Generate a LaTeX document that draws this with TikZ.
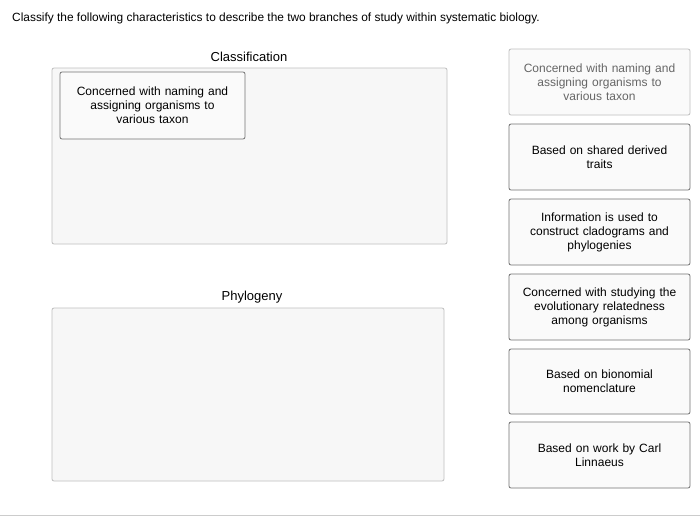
\documentclass[tikz,border=0pt]{standalone}
\usepackage{fontspec}
\setmainfont{Liberation Sans}
\begin{document}
\begin{tikzpicture}[x=1pt,y=-1pt,
  card/.style={draw=black!55,fill=black!2,rounded corners=2pt,minimum width=181pt,align=center,font=\fontsize{12}{14}\selectfont,text width=170pt,line width=0.8pt,inner sep=2pt},
  zone/.style={draw=black!25,fill=black!3,rounded corners=2pt,line width=0.8pt},
  head/.style={font=\fontsize{13}{15}\selectfont}]
\useasboundingbox (0,0) rectangle (700,517);
\fill[white] (0,0) rectangle (700,517);
\node[anchor=west,inner sep=0pt,font=\fontsize{11.9}{14}\selectfont] (title) at (12,18) {Classify the following characteristics to describe the two branches of study within systematic biology.};
\node[head] (h1) at (249,57) {Classification};
\draw[zone] (52,68) rectangle (447,244);
\node[card,minimum width=185pt,minimum height=67pt,text width=175pt] (c0) at (152.5,105.5) {Concerned with naming and\\assigning organisms to\\various taxon};
\node[head] (h2) at (252,297) {Phylogeny};
\draw[zone] (52,308) rectangle (444,481);
\node[card,draw=black!25,text=black!60,minimum height=66pt] (r1) at (599.5,82) {Concerned with naming and\\assigning organisms to\\various taxon};
\node[card,minimum height=66pt] (r2) at (599.5,157) {Based on shared derived\\traits\\[20pt]};
\node[card,minimum height=66pt] (r3) at (599.5,232) {Information is used to\\construct cladograms and\\phylogenies};
\node[card,minimum height=66pt] (r4) at (599.5,307) {Concerned with studying the\\evolutionary relatedness\\among organisms};
\node[card,minimum height=65pt] (r5) at (599.5,381.5) {Based on bionomial\\nomenclature\\[12pt]};
\node[card,minimum height=66pt] (r6) at (599.5,455) {Based on work by Carl\\Linnaeus\\[12pt]};
\draw[black!20] (0,515) -- (700,515);
\end{tikzpicture}
\end{document}
